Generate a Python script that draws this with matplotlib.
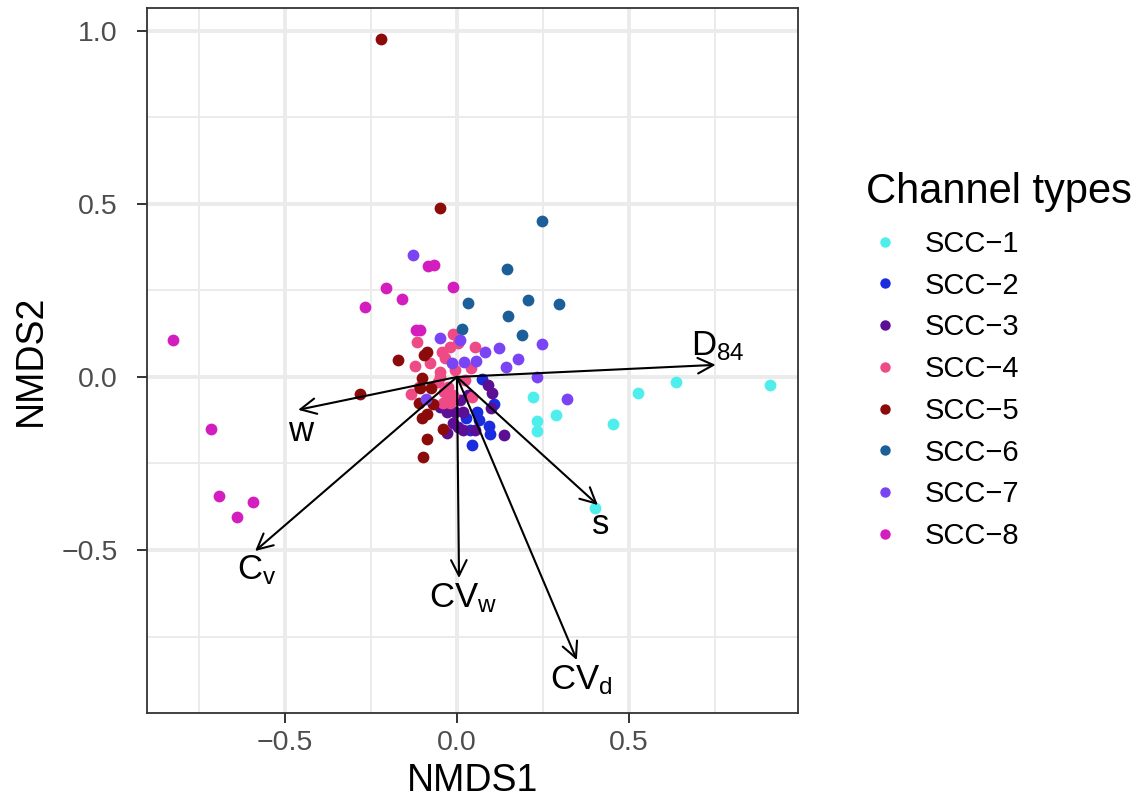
import matplotlib
matplotlib.use("Agg")
import matplotlib.pyplot as plt
from matplotlib.lines import Line2D

plt.rcParams['font.family'] = ['Liberation Sans', 'DejaVu Sans']
plt.rcParams['mathtext.fontset'] = 'custom'
plt.rcParams['mathtext.rm'] = 'Liberation Sans'

# NMDS site scores per channel type
scc1_x = [0.220, 0.232, 0.232, 0.287, 0.452, 0.525, 0.635, 0.910, 0.400]
scc1_y = [-0.058, -0.127, -0.156, -0.110, -0.136, -0.046, -0.014, -0.023, -0.379]

scc2_x = [0.072, 0.107, 0.058, 0.064, 0.093, 0.096, 0.043, 0.026, 0.038]
scc2_y = [-0.006, -0.078, -0.101, -0.124, -0.142, -0.165, -0.197, -0.118, -0.153]

scc3_x = [0.090, 0.101, 0.099, -0.049, -0.029, -0.006, 0.017, -0.012, 0.003,
          -0.029, 0.017, 0.052, 0.136, 0.032, 0.009]
scc3_y = [-0.023, -0.046, -0.090, -0.087, -0.101, -0.101, -0.101, -0.133, -0.145,
          -0.162, -0.153, -0.153, -0.168, -0.052, -0.066]

scc4_x = [-0.116, -0.012, 0.003, 0.052, -0.043, -0.020, -0.122, -0.078, 0.041,
          -0.049, -0.049, -0.133, -0.110, -0.026, -0.026, -0.020, 0.043, 0.023,
          -0.035, -0.006, -0.038, -0.055, -0.012, -0.041]
scc4_y = [0.101, 0.124, 0.098, 0.087, 0.072, 0.087, 0.032, 0.040, 0.026,
          0.014, 0.000, -0.049, -0.029, -0.029, -0.058, -0.075, -0.058, -0.009,
          0.055, 0.020, -0.043, -0.014, -0.052, -0.075]

scc5_x = [-0.220, -0.049, -0.281, -0.171, -0.087, -0.096, -0.101, -0.107,
          -0.075, -0.110, -0.070, -0.087, -0.101, -0.041, -0.087, -0.099]
scc5_y = [0.977, 0.488, -0.049, 0.049, 0.072, 0.064, -0.003, -0.032,
          -0.032, -0.075, -0.078, -0.107, -0.118, -0.150, -0.179, -0.231]

scc6_x = [0.246, 0.145, 0.032, 0.206, 0.296, 0.148, 0.188, 0.014]
scc6_y = [0.451, 0.312, 0.214, 0.223, 0.211, 0.176, 0.121, 0.139]

scc7_x = [-0.128, -0.049, 0.009, 0.246, 0.081, 0.122, 0.177, 0.142, -0.014,
          0.020, 0.055, 0.232, 0.319, -0.090]
scc7_y = [0.353, 0.113, 0.107, 0.095, 0.072, 0.084, 0.052, 0.029, 0.040,
          0.043, 0.046, 0.000, -0.064, -0.064]

scc8_x = [-0.823, -0.713, -0.690, -0.638, -0.591, -0.267, -0.206, -0.159,
          -0.084, -0.067, -0.012, -0.119, -0.107]
scc8_y = [0.107, -0.150, -0.344, -0.405, -0.361, 0.202, 0.257, 0.225,
          0.321, 0.324, 0.260, 0.136, 0.136]

group_names = ['SCC\u22121', 'SCC\u22122', 'SCC\u22123', 'SCC\u22124',
               'SCC\u22125', 'SCC\u22126', 'SCC\u22127', 'SCC\u22128']
group_x = [scc1_x, scc2_x, scc3_x, scc4_x, scc5_x, scc6_x, scc7_x, scc8_x]
group_y = [scc1_y, scc2_y, scc3_y, scc4_y, scc5_y, scc6_y, scc7_y, scc8_y]
group_colors = ['#4EEEEC', '#1B2BDE', '#5C0E94', '#EE4A86',
                '#8B0A0A', '#1C5E98', '#7A44F4', '#D41DBF']

# fitted environmental vectors
vec_names = [r'$\mathregular{D_{84}}$', 'w', r'$\mathregular{C_v}$',
             r'$\mathregular{CV_w}$', r'$\mathregular{CV_d}$', 's']
vec_x = [0.751, -0.461, -0.586, 0.006, 0.348, 0.409]
vec_y = [0.035, -0.095, -0.503, -0.581, -0.818, -0.370]
lab_x = [0.757, -0.455, -0.580, 0.017, 0.362, 0.417]
lab_y = [0.090, -0.159, -0.558, -0.639, -0.876, -0.425]

fig = plt.figure(figsize=(11.39, 8.07), dpi=100)
ax = fig.add_axes([0.129, 0.1165, 0.5716, 0.8735])

for name, xs, ys, col in zip(group_names, group_x, group_y, group_colors):
    ax.scatter(xs, ys, s=72, color=col, linewidths=0, label=name, zorder=3)

for vx, vy, lx, ly, name in zip(vec_x, vec_y, lab_x, lab_y, vec_names):
    ax.annotate('', xy=(vx, vy), xytext=(0, 0),
                arrowprops=dict(arrowstyle='->', color='black', lw=1.5,
                                mutation_scale=28, shrinkA=0, shrinkB=0),
                zorder=4)
    ax.text(lx, ly, name, fontsize=25, ha='center', va='center', zorder=5)

ax.set_xlim(-0.9, 0.99)
ax.set_ylim(-0.971, 1.066)
ax.set_xticks([-0.5, 0.0, 0.5])
ax.set_yticks([-0.5, 0.0, 0.5, 1.0])
ax.set_xticks([-0.75, -0.25, 0.25, 0.75], minor=True)
ax.set_yticks([-0.75, -0.25, 0.25, 0.75], minor=True)
ax.grid(which='major', color='#EBEBEB', lw=2.8, zorder=0)
ax.grid(which='minor', color='#EBEBEB', lw=1.4, zorder=0)
ax.set_axisbelow(True)
ax.tick_params(which='major', length=7, width=1.4, color='#333333',
               labelsize=20.5, labelcolor='#4D4D4D')
ax.tick_params(axis='x', which='major', pad=5)
ax.tick_params(axis='y', which='major', pad=14)
ax.tick_params(which='minor', length=0)
for sp in ax.spines.values():
    sp.set_color('#333333')
    sp.set_linewidth(1.3)

ax.set_xlabel('NMDS1', fontsize=27, labelpad=5)
ax.set_ylabel('NMDS2', fontsize=27, labelpad=9)

# legend: title drawn separately so its gap to the keys can be set
fig.text(866 / 1139, 1 - 192 / 807, 'Channel types', fontsize=30,
         ha='left', va='center')
handles = [Line2D([], [], ls='none', marker='o', ms=7.5, mec='none', mfc=c)
           for c in group_colors]
ax.legend(handles, group_names, loc='upper left',
          bbox_to_anchor=(866 / 1139, 1 - 230 / 807),
          bbox_transform=fig.transFigure, frameon=False, fontsize=21,
          handlelength=1.3, handletextpad=0.72, labelspacing=0.47,
          borderpad=0, borderaxespad=0)

fig.savefig('out.png', dpi=100)
